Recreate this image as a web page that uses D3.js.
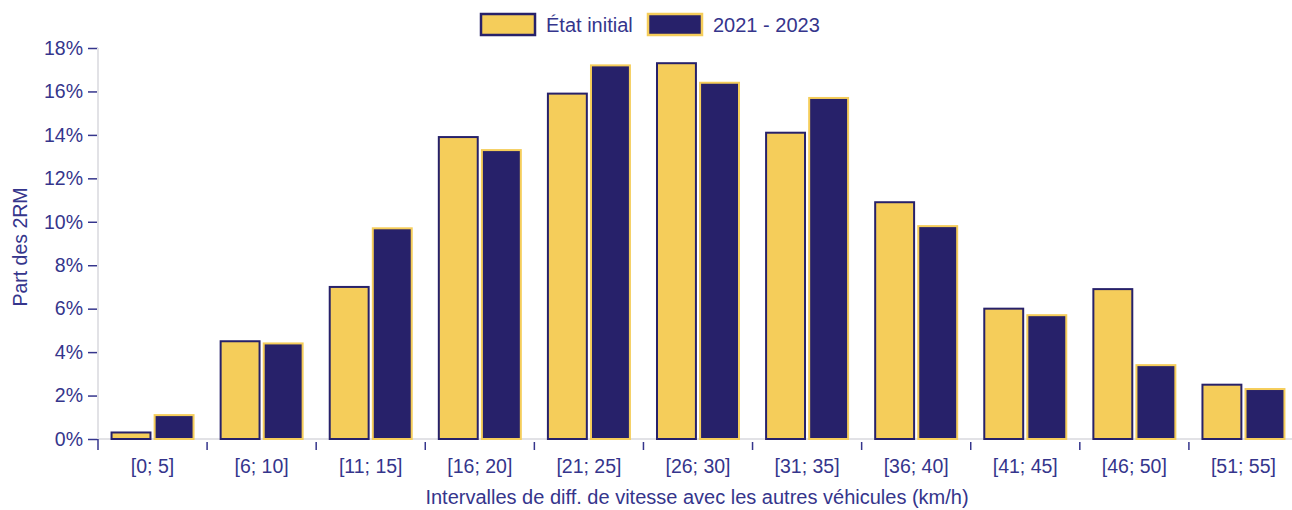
<!DOCTYPE html>
<html>
<head>
<meta charset="utf-8">
<script src="https://d3js.org/d3.v7.min.js"></script>
<style>
  body { margin: 0; background: #fff; }
  text { font-family: "Liberation Sans", Arial, sans-serif; }
</style>
</head>
<body>
<svg id="drawing_region"></svg>
<script>
const categories = ["[0; 5]", "[6; 10]", "[11; 15]", "[16; 20]", "[21; 25]", "[26; 30]",
                    "[31; 35]", "[36; 40]", "[41; 45]", "[46; 50]", "[51; 55]"];
const series = ["État initial", "2021 - 2023"];
const etat_initial = [0.3, 4.5, 7.0, 13.9, 15.9, 17.3, 14.1, 10.9, 6.0, 6.9, 2.5];
const periode_2021 = [1.1, 4.4, 9.7, 13.3, 17.2, 16.4, 15.7, 9.8, 5.7, 3.4, 2.3];
const y_ticks = [0, 2, 4, 6, 8, 10, 12, 14, 16, 18];

const navy = "#27216a";
const yellow = "#f5cd5a";
const text_color = "#35358c";

const config = {
    width: 1292,
    height: 510,
    margin: {top: 48, right: -6, bottom: 71, left: 98}
};

const data = categories.map((c, i) => ({
    label: c,
    values: [
        {key: series[0], value: etat_initial[i]},
        {key: series[1], value: periode_2021[i]}
    ]
}));

const svg = d3.select('#drawing_region')
    .attr('width', config.width)
    .attr('height', config.height);

const inner_width = config.width - config.margin.left - config.margin.right;
const inner_height = config.height - config.margin.top - config.margin.bottom;

const chart = svg.append('g')
    .attr('transform', `translate(${config.margin.left}, ${config.margin.top})`);

const xscale = d3.scaleBand()
    .domain(categories)
    .range([0, inner_width])
    .padding(0);

const bw = xscale.bandwidth();
const x1 = d3.scaleBand()
    .domain(series)
    .range([bw * 0.115, bw * 0.885])
    .paddingInner(0.05);

const yscale = d3.scaleLinear()
    .domain([0, 18])
    .range([inner_height, 0]);

const color = d3.scaleOrdinal().domain(series).range([yellow, navy]);
const stroke = d3.scaleOrdinal().domain(series).range([navy, yellow]);

// y axis
const yaxis = d3.axisLeft(yscale)
    .tickValues(y_ticks)
    .tickSize(10)
    .tickPadding(5)
    .tickFormat(d => d + "%");

const yaxis_group = chart.append('g').call(yaxis);
yaxis_group.select('.domain').remove();
yaxis_group.selectAll('.tick line').attr('stroke', text_color).attr('stroke-width', 1.5);
yaxis_group.selectAll('.tick text')
    .attr('fill', text_color)
    .attr('font-size', 19.5)
    .style('font-family', '"Liberation Sans", Arial, sans-serif');

chart.append('line')
    .attr('x1', 0).attr('x2', 0)
    .attr('y1', 0).attr('y2', inner_height)
    .attr('stroke', '#e2e2e6').attr('stroke-width', 2);

chart.append('line')
    .attr('x1', 0).attr('x2', inner_width)
    .attr('y1', inner_height).attr('y2', inner_height)
    .attr('stroke', '#e2e2e6').attr('stroke-width', 2);

// bars
const groups = chart.selectAll('.group')
    .data(data)
    .enter()
    .append('g')
    .attr('transform', d => `translate(${xscale(d.label)}, 0)`);

groups.selectAll('rect')
    .data(d => d.values)
    .enter()
    .append('rect')
    .attr('x', d => x1(d.key) + 1)
    .attr('y', d => yscale(d.value))
    .attr('width', x1.bandwidth() - 2)
    .attr('height', d => inner_height - yscale(d.value))
    .attr('fill', d => color(d.key))
    .attr('stroke', d => stroke(d.key))
    .attr('stroke-width', 2);

// x axis: ticks at band boundaries, labels centered
const boundaries = categories.map(c => xscale(c));
chart.selectAll('.xtick')
    .data(boundaries)
    .enter()
    .append('line')
    .attr('x1', d => d).attr('x2', d => d)
    .attr('y1', (d, i) => i === 0 ? inner_height : inner_height + 3)
    .attr('y2', inner_height + 11)
    .attr('stroke', text_color)
    .attr('stroke-width', 1.5);

chart.selectAll('.xlabel')
    .data(categories)
    .enter()
    .append('text')
    .attr('x', d => xscale(d) + bw / 2)
    .attr('y', inner_height + 34)
    .attr('text-anchor', 'middle')
    .attr('fill', text_color)
    .attr('font-size', 19.5)
    .text(d => d);

// axis titles
svg.append('text')
    .attr('x', 697)
    .attr('y', 504)
    .attr('text-anchor', 'middle')
    .attr('fill', text_color)
    .attr('font-size', 20)
    .text("Intervalles de diff. de vitesse avec les autres véhicules (km/h)");

svg.append('text')
    .attr('transform', 'translate(27, 247) rotate(-90)')
    .attr('text-anchor', 'middle')
    .attr('fill', text_color)
    .attr('font-size', 19.5)
    .text("Part des 2RM");

// legend
const legend_x = [481, 648];
const legend = svg.selectAll('.legend')
    .data(series)
    .enter()
    .append('g')
    .attr('transform', (d, i) => `translate(${legend_x[i]}, 14)`);

legend.append('rect')
    .attr('width', 54)
    .attr('height', 21)
    .attr('fill', d => color(d))
    .attr('stroke', d => stroke(d))
    .attr('stroke-width', 2.5);

legend.append('text')
    .attr('x', 65)
    .attr('y', 17.5)
    .attr('fill', text_color)
    .attr('font-size', 20)
    .text(d => d);
</script>
</body>
</html>
